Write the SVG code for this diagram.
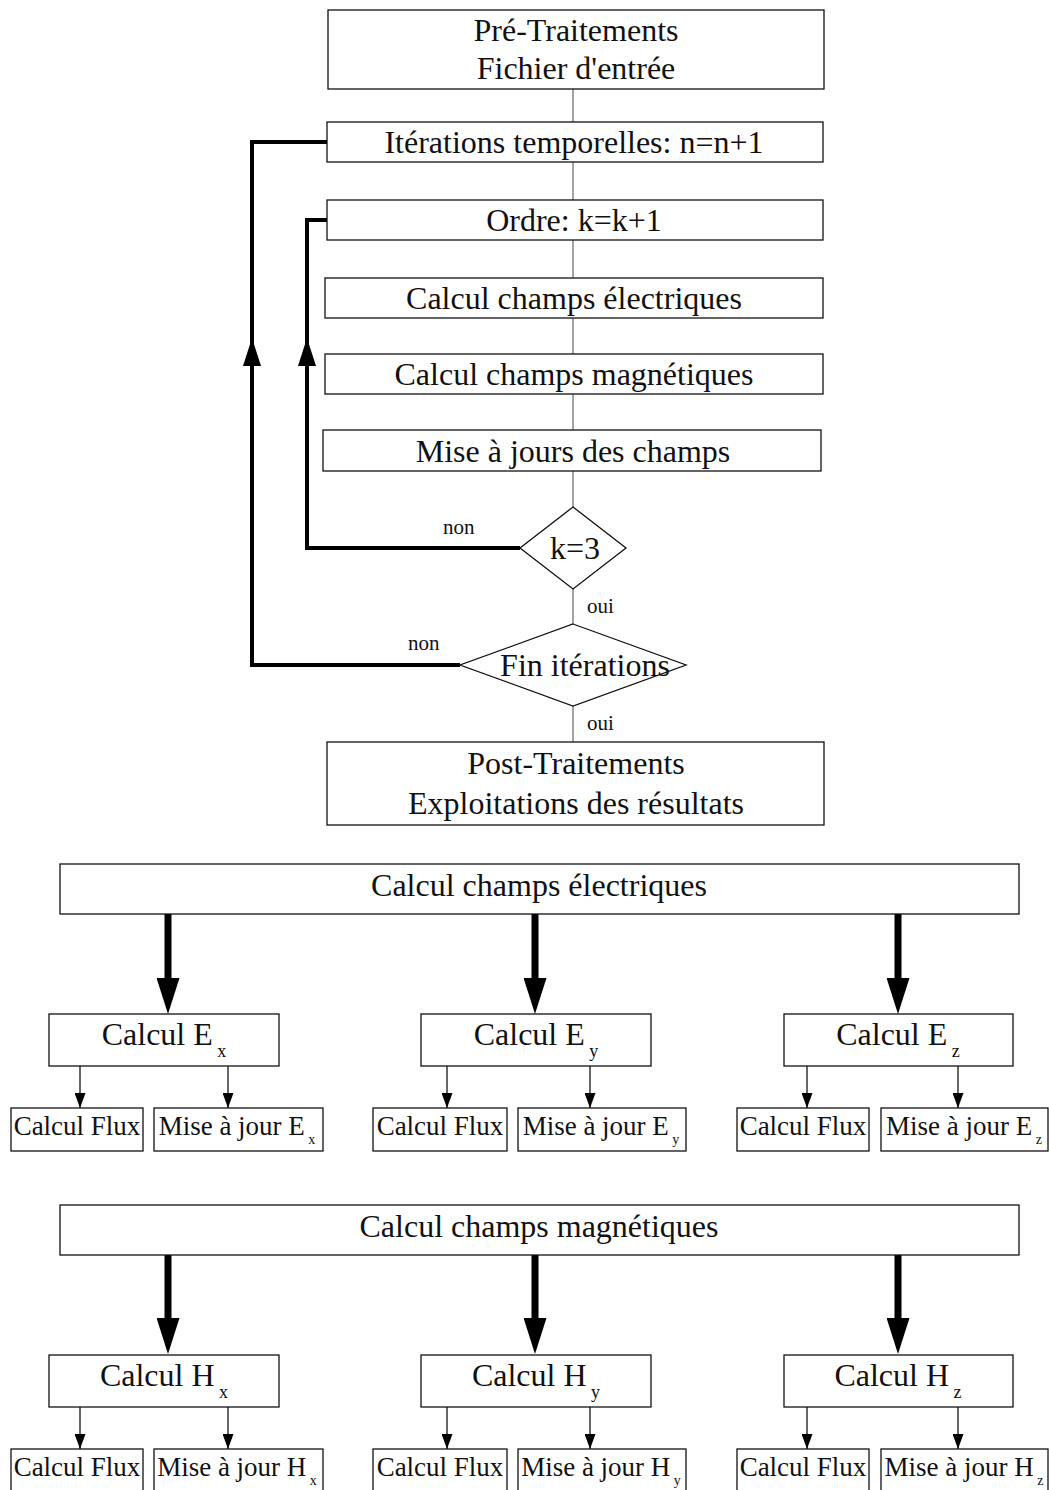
<svg xmlns="http://www.w3.org/2000/svg" width="1049" height="1490" viewBox="0 0 1049 1490">
  <style>
    .box { fill: #fff; stroke: #111; stroke-width: 1.3; }
    .lbl { font-family: "Liberation Serif", "DejaVu Serif", serif; font-size: 32px; fill: #111; text-anchor: middle; }
    .sm { font-family: "Liberation Serif", "DejaVu Serif", serif; font-size: 27px; fill: #111; text-anchor: middle; }
    .tag { font-family: "Liberation Serif", "DejaVu Serif", serif; font-size: 21px; fill: #111; }
    .link { fill: none; stroke: #666; stroke-width: 1.2; }
    .loop { fill: none; stroke: #000; stroke-width: 4; }
    .head { fill: #000; }
    .fat { fill: none; stroke: #000; stroke-width: 7; marker-end: url(#bigHead); }
    .thin { fill: none; stroke: #000; stroke-width: 1.2; marker-end: url(#smallHead); }
  </style>
  <defs>
    <marker id="bigHead" markerUnits="userSpaceOnUse" viewBox="0 0 36 23" markerWidth="36" markerHeight="23" refX="0" refY="11.5" orient="auto">
      <path d="M0,0 L36,11.5 L0,23 z" fill="#000"/>
    </marker>
    <marker id="smallHead" markerUnits="userSpaceOnUse" viewBox="0 0 15 11" markerWidth="15" markerHeight="11" refX="15" refY="5.5" orient="auto">
      <path d="M0,0 L15,5.5 L0,11 z" fill="#000"/>
    </marker>
  </defs>

  <!-- connectors -->
  <g id="connectors">
    <!-- main chain -->
    <path class="link" d="M573,89 V122 M573,162 V200 M573,240 V278 M573,318 V354 M573,394 V430 M573,471 V507 M573,589 V624 M573,706 V742"/>
    <!-- feedback loops -->
    <path class="loop" d="M520,548 H307 V220 H327"/>
    <polygon class="head" points="307,338 298,366 316,366"/>
    <path class="loop" d="M460,665 H252 V142 H327"/>
    <polygon class="head" points="252,338 243,366 261,366"/>
    <text class="tag" x="443" y="534">non</text>
    <text class="tag" x="408" y="650">non</text>
    <text class="tag" x="587" y="613">oui</text>
    <text class="tag" x="587" y="730">oui</text>

    <!-- electric field breakdown -->
    <path class="fat" d="M168,914 V978"/>
    <path class="fat" d="M535,914 V978"/>
    <path class="fat" d="M898,914 V978"/>
    <path class="thin" d="M80,1066 V1108"/>
    <path class="thin" d="M228,1066 V1108"/>
    <path class="thin" d="M447,1066 V1108"/>
    <path class="thin" d="M590,1066 V1108"/>
    <path class="thin" d="M807,1066 V1108"/>
    <path class="thin" d="M958,1066 V1108"/>

    <!-- magnetic field breakdown -->
    <path class="fat" d="M168,1255 V1318"/>
    <path class="fat" d="M535,1255 V1318"/>
    <path class="fat" d="M898,1255 V1318"/>
    <path class="thin" d="M80,1407 V1449"/>
    <path class="thin" d="M228,1407 V1449"/>
    <path class="thin" d="M447,1407 V1449"/>
    <path class="thin" d="M590,1407 V1449"/>
    <path class="thin" d="M807,1407 V1449"/>
    <path class="thin" d="M958,1407 V1449"/>
  </g>

  <!-- time loop flowchart -->
  <g id="pre">
    <rect class="box" x="328" y="10" width="496" height="79"/>
    <text class="lbl" x="576" y="41">Pré-Traitements</text>
    <text class="lbl" x="576" y="79">Fichier d'entrée</text>
  </g>
  <g id="iter">
    <rect class="box" x="327" y="122" width="496" height="40"/>
    <text class="lbl" x="574" y="153">Itérations temporelles: n=n+1</text>
  </g>
  <g id="ordre">
    <rect class="box" x="327" y="200" width="496" height="40"/>
    <text class="lbl" x="574" y="231">Ordre: k=k+1</text>
  </g>
  <g id="calcE">
    <rect class="box" x="325" y="278" width="498" height="40"/>
    <text class="lbl" x="574" y="309">Calcul champs électriques</text>
  </g>
  <g id="calcH">
    <rect class="box" x="325" y="354" width="498" height="40"/>
    <text class="lbl" x="574" y="385">Calcul champs magnétiques</text>
  </g>
  <g id="maj">
    <rect class="box" x="323" y="430" width="498" height="41"/>
    <text class="lbl" x="573" y="462">Mise à jours des champs</text>
  </g>
  <g id="testK">
    <polygon class="box" points="573,507 626,548 573,589 520,548"/>
    <text class="lbl" x="575" y="559">k=3</text>
  </g>
  <g id="testFin">
    <polygon class="box" points="573,624 686,665 573,706 460,665"/>
    <text class="lbl" x="585" y="676">Fin itérations</text>
  </g>
  <g id="post">
    <rect class="box" x="327" y="742" width="497" height="83"/>
    <text class="lbl" x="576" y="774">Post-Traitements</text>
    <text class="lbl" x="576" y="814">Exploitations des résultats</text>
  </g>

  <!-- electric field -->
  <g id="E">
    <rect class="box" x="60" y="864" width="959" height="50"/>
    <text class="lbl" x="539" y="896">Calcul champs électriques</text>
  </g>
  <g id="Ex">
    <rect class="box" x="49" y="1014" width="230" height="52"/>
    <text class="lbl" x="164" y="1045">Calcul E<tspan font-size="18" dy="12"> x</tspan></text>
  </g>
  <g id="Ey">
    <rect class="box" x="421" y="1014" width="230" height="52"/>
    <text class="lbl" x="536" y="1045">Calcul E<tspan font-size="18" dy="12"> y</tspan></text>
  </g>
  <g id="Ez">
    <rect class="box" x="784" y="1014" width="229" height="52"/>
    <text class="lbl" x="898" y="1045">Calcul E<tspan font-size="18" dy="12"> z</tspan></text>
  </g>
  <g id="fluxEx">
    <rect class="box" x="11" y="1108" width="132" height="43"/>
    <text class="sm" x="77" y="1135">Calcul Flux</text>
  </g>
  <g id="majEx">
    <rect class="box" x="154" y="1108" width="169" height="43"/>
    <text class="sm" x="237" y="1135">Mise à jour E<tspan font-size="14" dy="9"> x</tspan></text>
  </g>
  <g id="fluxEy">
    <rect class="box" x="373" y="1108" width="134" height="43"/>
    <text class="sm" x="440" y="1135">Calcul Flux</text>
  </g>
  <g id="majEy">
    <rect class="box" x="518" y="1108" width="168" height="43"/>
    <text class="sm" x="601" y="1135">Mise à jour E<tspan font-size="14" dy="9"> y</tspan></text>
  </g>
  <g id="fluxEz">
    <rect class="box" x="737" y="1108" width="132" height="43"/>
    <text class="sm" x="803" y="1135">Calcul Flux</text>
  </g>
  <g id="majEz">
    <rect class="box" x="881" y="1108" width="167" height="43"/>
    <text class="sm" x="964" y="1135">Mise à jour E<tspan font-size="14" dy="9"> z</tspan></text>
  </g>

  <!-- magnetic field -->
  <g id="H">
    <rect class="box" x="60" y="1205" width="959" height="50"/>
    <text class="lbl" x="539" y="1237">Calcul champs magnétiques</text>
  </g>
  <g id="Hx">
    <rect class="box" x="49" y="1355" width="230" height="52"/>
    <text class="lbl" x="164" y="1386">Calcul H<tspan font-size="18" dy="12"> x</tspan></text>
  </g>
  <g id="Hy">
    <rect class="box" x="421" y="1355" width="230" height="52"/>
    <text class="lbl" x="536" y="1386">Calcul H<tspan font-size="18" dy="12"> y</tspan></text>
  </g>
  <g id="Hz">
    <rect class="box" x="784" y="1355" width="229" height="52"/>
    <text class="lbl" x="898" y="1386">Calcul H<tspan font-size="18" dy="12"> z</tspan></text>
  </g>
  <g id="fluxHx">
    <rect class="box" x="11" y="1449" width="132" height="45"/>
    <text class="sm" x="77" y="1476">Calcul Flux</text>
  </g>
  <g id="majHx">
    <rect class="box" x="154" y="1449" width="169" height="45"/>
    <text class="sm" x="237" y="1476">Mise à jour H<tspan font-size="14" dy="9"> x</tspan></text>
  </g>
  <g id="fluxHy">
    <rect class="box" x="373" y="1449" width="134" height="45"/>
    <text class="sm" x="440" y="1476">Calcul Flux</text>
  </g>
  <g id="majHy">
    <rect class="box" x="518" y="1449" width="168" height="45"/>
    <text class="sm" x="601" y="1476">Mise à jour H<tspan font-size="14" dy="9"> y</tspan></text>
  </g>
  <g id="fluxHz">
    <rect class="box" x="737" y="1449" width="132" height="45"/>
    <text class="sm" x="803" y="1476">Calcul Flux</text>
  </g>
  <g id="majHz">
    <rect class="box" x="881" y="1449" width="167" height="45"/>
    <text class="sm" x="964" y="1476">Mise à jour H<tspan font-size="14" dy="9"> z</tspan></text>
  </g>
</svg>
